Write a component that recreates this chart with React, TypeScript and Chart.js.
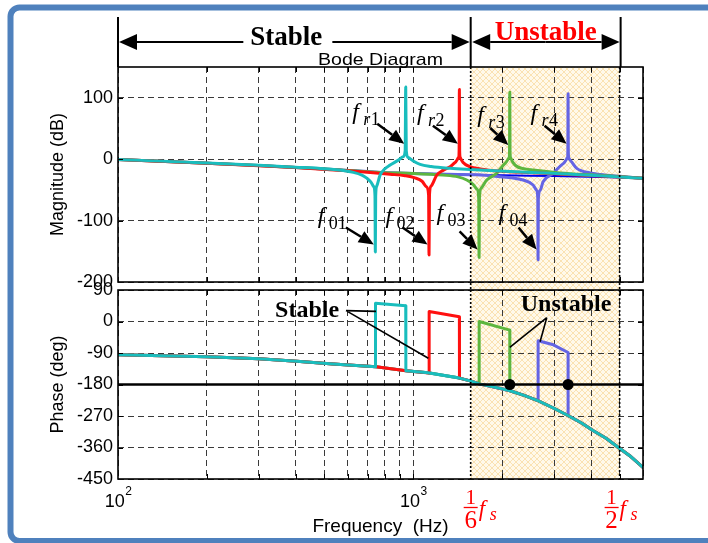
import React, { useEffect, useRef } from 'react';
import { Chart, registerables } from 'chart.js';

Chart.register(...registerables);

const W = 708;
const H = 543;
const SANS = '"Liberation Sans", Arial, Helvetica, sans-serif';
const SERIF = '"Liberation Serif", "Times New Roman", Times, serif';

// ---------- axes ----------
const F_MIN = 100;
const F_MAX = 6000;
const X_GRID = [100, 200, 300, 400, 500, 600, 700, 800, 900, 1000, 2000, 3000, 4000, 5000, 6000];
const X_DECADES = [2, 3];
const F_STABLE_EDGE = 1565; // ~ fs/6
const F_HALF_FS = 5000; // fs/2
const MAG_MIN = -200;
const MAG_MAX = 150;
const MAG_TICKS = [-200, -100, 0, 100];
const PH_MIN = -450;
const PH_MAX = 90;
const PH_TICKS = [-450, -360, -270, -180, -90, 0, 90];
const PH_CROSS = -180;

// anti-resonance / resonance frequencies (Hz)
const F_ANTI = [744, 1131, 1671, 2647];
const F_RES = [943, 1433, 2123, 3345];

// ---------- magnitude (Hz, dB) ----------
const MAG_BASE: [number, number][] = [[100, -0.5], [200, -6.5], [300, -10.4], [400, -13.5], [500, -16], [600, -18.3], [700, -20.3], [800, -21.8], [1000, -23.2], [1300, -24.6], [1570, -25.3], [2000, -26.3], [3000, -27.6], [4300, -29], [6000, -31.3]];
const MAG_CYAN: [number, number][] = [[100, -0.5], [200, -6.3], [300, -10.1], [400, -13.1], [500, -15.6], [560, -17.5], [627, -21.5], [670, -26], [696, -31], [718, -37], [735, -45], [742, -60], [744, -151], [746, -60], [752, -44], [772, -26], [800, -16], [835, -9.7], [891, -1.6], [925, 4], [939, 14], [943, 117.5], [947, 14], [960, 3], [1000, -3], [1055, -8.6], [1150, -12], [1333, -15], [1557, -17], [1968, -19.5], [2907, -23], [4294, -27], [6000, -31.3]];
const MAG_RED: [number, number][] = [[100, -0.5], [200, -6.6], [300, -10.6], [400, -13.8], [500, -16.6], [600, -19], [700, -21.4], [835, -24.6], [938, -27], [1014, -30.5], [1071, -36], [1109, -45], [1127, -58], [1131, -156], [1135, -58], [1149, -44], [1201, -26], [1261, -18.3], [1333, -12.3], [1386, -5.4], [1424, 2.8], [1430, 14], [1433, 113.5], [1436, 14], [1442, 3], [1475, -5.4], [1557, -12.3], [1684, -15.9], [1968, -19.5], [2907, -23.5], [4294, -27.5], [6000, -31.3]];
const MAG_GREEN: [number, number][] = [[100, -0.5], [200, -6.5], [300, -10.4], [400, -13.5], [500, -16], [600, -18.3], [700, -20.4], [800, -22], [1000, -23.2], [1261, -26], [1418, -28.9], [1518, -34], [1594, -41], [1645, -49], [1666, -64], [1671, -160], [1676, -64], [1697, -47.5], [1774, -34], [1918, -23], [2046, -7], [2112, 2.8], [2119, 14], [2123, 109], [2127, 14], [2135, 2.8], [2213, -9.7], [2392, -15.9], [2546, -17.8], [3143, -22.4], [4294, -26.4], [6000, -31.3]];
const MAG_PURPLE: [number, number][] = [[100, -0.5], [200, -6.5], [300, -10.4], [400, -13.5], [500, -16], [600, -18.3], [700, -20.3], [800, -21.8], [1000, -23.2], [1300, -24.6], [1640, -25.5], [1968, -28.5], [2355, -34], [2546, -42], [2617, -50.8], [2641, -64], [2647, -164], [2653, -64], [2689, -50.8], [2753, -36.7], [2976, -23.2], [3225, -7], [3327, 2.3], [3339, 14], [3345, 106.6], [3351, 14], [3364, 2.3], [3451, -5.4], [3580, -15], [3972, -22.4], [4294, -24.8], [5017, -28], [6000, -31.3]];

// ---------- phase (Hz, deg) ----------
const PH_BASE: [number, number][] = [[100, -95.1], [200, -100.9], [300, -106.6], [414, -114.3], [535, -121.7], [748, -129.4], [945, -140.9], [1122, -146.6], [1433, -161.7], [1570, -170.3], [1684, -178.9], [1893, -187.7], [2128, -198], [2373, -210.9], [2653, -226.6], [2976, -246.6], [3353, -269.4], [3703, -289.4], [4074, -312.3], [4499, -333.6], [4953, -360], [5468, -386.6], [6000, -417]];
const PH_CYAN: [number, number][] = [[100, -95.1], [200, -100.9], [300, -106.6], [414, -114.3], [535, -121.7], [744, -129.3], [745, 52], [943, 45], [944, -140.9], [1122, -146.6], [1433, -161.7], [1570, -170.3], [1684, -178.9], [1893, -187.7], [2128, -198], [2373, -210.9], [2653, -226.6], [2976, -246.6], [3353, -269.4], [3703, -289.4], [4074, -312.3], [4499, -333.6], [4953, -360], [5468, -386.6], [6000, -417]];
const PH_RED: [number, number][] = [[100, -95.1], [200, -100.9], [300, -106.6], [414, -114.3], [535, -121.7], [748, -129.4], [945, -140.9], [1131, -147.1], [1132, 28.6], [1433, 13.4], [1434, -161.8], [1570, -170.3], [1684, -178.9], [1893, -187.7], [2128, -198], [2373, -210.9], [2653, -226.6], [2976, -246.6], [3353, -269.4], [3703, -289.4], [4074, -312.3], [4499, -333.6], [4953, -360], [5468, -386.6], [6000, -417]];
const PH_GREEN: [number, number][] = [[100, -95.1], [200, -100.9], [300, -106.6], [414, -114.3], [535, -121.7], [748, -129.4], [945, -140.9], [1122, -146.6], [1433, -161.7], [1570, -170.3], [1671, -178], [1672, 0], [2123, -24.6], [2124, -197.8], [2373, -210.9], [2653, -226.6], [2976, -246.6], [3353, -269.4], [3703, -289.4], [4074, -312.3], [4499, -333.6], [4953, -360], [5468, -386.6], [6000, -417]];
const PH_PURPLE: [number, number][] = [[100, -95.1], [200, -100.9], [300, -106.6], [414, -114.3], [535, -121.7], [748, -129.4], [945, -140.9], [1122, -146.6], [1433, -161.7], [1570, -170.3], [1684, -178.9], [1893, -187.7], [2128, -198], [2373, -210.9], [2647, -226.3], [2648, -55], [2983, -66.6], [3345, -88.5], [3346, -269], [3703, -289.4], [4074, -312.3], [4499, -333.6], [4953, -360], [5468, -386.6], [6000, -417]];
const PH_CROSS_LINE: [number, number][] = [[F_MIN, PH_CROSS], [F_MAX, PH_CROSS]];
const PH_MARKERS: [number, number][] = [[F_RES[2], PH_CROSS], [F_RES[3], PH_CROSS]];

// ---------- annotations ----------
const MAG_NOTES = [
  { f: F_RES[0], v: 25, it: 'r', num: '1', tail: [-27, -20], label: [-52, -25] },
  { f: F_RES[1], v: 25, it: 'r', num: '2', tail: [-25, -18], label: [-41, -24] },
  { f: F_RES[2], v: 23, it: 'r', num: '3', tail: [-18, -17], label: [-31, -23] },
  { f: F_RES[3], v: 25, it: 'r', num: '4', tail: [-22, -18], label: [-36, -24] },
  { f: F_ANTI[0], v: -139, it: '', num: '01', tail: [-28, -17], label: [-56, -22] },
  { f: F_ANTI[1], v: -139, it: '', num: '02', tail: [-25, -17], label: [-42, -22] },
  { f: F_ANTI[2], v: -147, it: '', num: '03', tail: [-18, -18], label: [-41, -29] },
  { f: F_ANTI[3], v: -147, it: '', num: '04', tail: [-18, -22], label: [-38, -29] },
];
const PH_NOTES = [
  { text: 'Stable', at: [437, 13], from: [592, 31], to: [[748, 29], [1125, -105]] },
  { text: 'Unstable', at: [3293, 31], from: [2833, 11], to: [[F_RES[2], -74], [2689, -58]] },
];
const FS_MARKS = [
  { f: F_STABLE_EDGE, den: '6', dx: 0 },
  { f: F_HALF_FS, den: '2', dx: -8 },
];

// ---------- style ----------
const CYAN = '#19BDBD';
const RED = '#FF1010';
const GREEN = '#5DB63F';
const PURPLE = '#6464E4';
const BASE_BLUE = '#0000EE';
const GRID_COLOR = '#3a3a3a';
const DASH = [6, 4];
const AXIS_LEFT = 118;
const PLOT_RIGHT = 643;
const MAG_TOP = 67;
const MAG_BOTTOM = 282;
const PH_TOP = 290;
const PH_BOTTOM = 479;

const pts = (a: [number, number][]) => a.map(([x, y]) => ({ x, y }));

function hatch(ctx: CanvasRenderingContext2D) {
  const c = document.createElement('canvas');
  c.width = 6;
  c.height = 6;
  const g = c.getContext('2d')!;
  g.fillStyle = '#FFF9EA';
  g.fillRect(0, 0, 6, 6);
  g.strokeStyle = '#FAE2B2';
  g.lineWidth = 1;
  g.beginPath();
  g.moveTo(0, 0);
  g.lineTo(6, 6);
  g.moveTo(6, 0);
  g.lineTo(0, 6);
  g.stroke();
  return ctx.createPattern(c, 'repeat')!;
}

function arrow(ctx: CanvasRenderingContext2D, x0: number, y0: number, x1: number, y1: number, head: number, half: number, lw: number) {
  const a = Math.atan2(y1 - y0, x1 - x0);
  const bx = x1 - head * Math.cos(a);
  const by = y1 - head * Math.sin(a);
  ctx.lineWidth = lw;
  ctx.beginPath();
  ctx.moveTo(x0, y0);
  ctx.lineTo(bx, by);
  ctx.stroke();
  ctx.beginPath();
  ctx.moveTo(x1, y1);
  ctx.lineTo(bx + half * Math.sin(a), by - half * Math.cos(a));
  ctx.lineTo(bx - half * Math.sin(a), by + half * Math.cos(a));
  ctx.closePath();
  ctx.fill();
}

function drawBoxAndTicks(chart: any, yTicks: number[]) {
  const { ctx, chartArea: a, scales } = chart;
  ctx.save();
  ctx.strokeStyle = '#000';
  ctx.lineWidth = 1;
  ctx.beginPath();
  X_GRID.forEach((v) => {
    const x = Math.round(scales.x.getPixelForValue(v)) + 0.5;
    if (x <= a.left + 1 || x >= a.right - 1) return;
    ctx.moveTo(x, a.top);
    ctx.lineTo(x, a.top + 5);
    ctx.moveTo(x, a.bottom);
    ctx.lineTo(x, a.bottom - 5);
  });
  yTicks.forEach((v) => {
    const y = Math.round(scales.y.getPixelForValue(v)) + 0.5;
    if (y <= a.top + 1 || y >= a.bottom - 1) return;
    ctx.moveTo(a.left, y);
    ctx.lineTo(a.left + 5, y);
    ctx.moveTo(a.right, y);
    ctx.lineTo(a.right - 5, y);
  });
  ctx.stroke();
  ctx.lineWidth = 1.6;
  ctx.strokeRect(a.left, a.top, a.right - a.left, a.bottom - a.top);
  ctx.restore();
}

function drawDotted(chart: any, top: number, bottom: number) {
  const { ctx, scales } = chart;
  ctx.save();
  ctx.strokeStyle = '#000';
  ctx.lineWidth = 1.6;
  ctx.setLineDash([2, 2]);
  [F_STABLE_EDGE, F_HALF_FS].forEach((f) => {
    const x = scales.x.getPixelForValue(f);
    ctx.beginPath();
    ctx.moveTo(x, top);
    ctx.lineTo(x, bottom);
    ctx.stroke();
  });
  ctx.restore();
}

function yTitle(ctx: CanvasRenderingContext2D, text: string, x: number, y: number) {
  ctx.save();
  ctx.translate(x, y);
  ctx.rotate(-Math.PI / 2);
  ctx.font = `18px ${SANS}`;
  ctx.fillStyle = '#000';
  ctx.textAlign = 'center';
  ctx.textBaseline = 'middle';
  ctx.fillText(text, 0, 0);
  ctx.restore();
}

const magDecor = {
  id: 'magDecor',
  beforeDraw(chart: any) {
    const { ctx, chartArea: a, scales } = chart;
    ctx.save();
    // outer frame
    ctx.strokeStyle = '#4F81BD';
    ctx.lineWidth = 6;
    ctx.beginPath();
    (ctx as any).roundRect(10.5, 7.5, 760, 533.5, 9);
    ctx.stroke();
    // unstable shading
    const xa = scales.x.getPixelForValue(F_STABLE_EDGE);
    const xb = scales.x.getPixelForValue(F_HALF_FS);
    ctx.fillStyle = hatch(ctx);
    ctx.fillRect(xa, a.top, xb - xa, PH_TOP - a.top);
    ctx.restore();
  },
  afterDraw(chart: any) {
    const { ctx, chartArea: a, scales } = chart;
    const xs = scales.x;
    const ys = scales.y;
    drawDotted(chart, a.top, PH_TOP);
    drawBoxAndTicks(chart, MAG_TICKS);
    ctx.save();
    ctx.fillStyle = '#000';
    ctx.strokeStyle = '#000';
    // header
    const x0 = xs.getPixelForValue(F_MIN);
    const x1 = xs.getPixelForValue(F_STABLE_EDGE);
    const x2 = xs.getPixelForValue(F_HALF_FS) + 1;
    ctx.lineWidth = 2;
    ctx.beginPath();
    [x0, x1, x2].forEach((x) => {
      ctx.moveTo(x, 17);
      ctx.lineTo(x, a.top);
    });
    ctx.stroke();
    const ay = 42;
    ctx.font = `bold 27px ${SERIF}`;
    ctx.textAlign = 'center';
    ctx.textBaseline = 'alphabetic';
    const sc = (x0 + x1) / 2 - 8;
    const sw = ctx.measureText('Stable').width;
    ctx.fillText('Stable', sc, 45);
    arrow(ctx, sc - sw / 2 - 7, ay, x0 + 1, ay, 18, 8, 2);
    arrow(ctx, sc + sw / 2 + 10, ay, x1 - 1, ay, 18, 8, 2);
    const uc = (x1 + x2) / 2;
    arrow(ctx, uc, ay, x1 + 1.5, ay, 18, 8, 2);
    arrow(ctx, uc, ay, x2 - 1, ay, 18, 8, 2);
    ctx.fillStyle = '#FF0000';
    ctx.fillText('Unstable', uc, 40);
    ctx.fillStyle = '#000';
    // Bode Diagram title
    ctx.save();
    ctx.font = `17px ${SANS}`;
    const bw = ctx.measureText('Bode Diagram').width;
    ctx.translate((a.left + a.right) / 2, 65);
    ctx.scale(125 / bw, 1);
    ctx.textAlign = 'center';
    ctx.fillText('Bode Diagram', 0, 0);
    ctx.restore();
    // y title
    yTitle(ctx, 'Magnitude (dB)', 58, (a.top + a.bottom) / 2);
    // f annotations
    MAG_NOTES.forEach((n) => {
      const tx = xs.getPixelForValue(n.f) - 1.5;
      const ty = ys.getPixelForValue(n.v);
      arrow(ctx, tx + n.tail[0], ty + n.tail[1], tx, ty, 15, 6.5, 2.5);
      const lx = tx + n.label[0];
      const ly = ty + n.label[1];
      ctx.textAlign = 'left';
      ctx.font = `italic 24px ${SERIF}`;
      ctx.fillText('f', lx, ly);
      let sx = lx + 11;
      if (n.it) {
        ctx.font = `italic 18px ${SERIF}`;
        ctx.fillText(n.it, sx, ly + 6);
        sx += ctx.measureText(n.it).width + 0.5;
      }
      ctx.font = `18px ${SERIF}`;
      ctx.fillText(n.num, sx, ly + 6);
    });
    ctx.restore();
  },
};

const phDecor = {
  id: 'phDecor',
  beforeDraw(chart: any) {
    const { ctx, chartArea: a, scales } = chart;
    ctx.save();
    const xa = scales.x.getPixelForValue(F_STABLE_EDGE);
    const xb = scales.x.getPixelForValue(F_HALF_FS);
    ctx.fillStyle = hatch(ctx);
    ctx.fillRect(xa, a.top, xb - xa, a.bottom - a.top);
    ctx.restore();
  },
  afterDraw(chart: any) {
    const { ctx, chartArea: a, scales } = chart;
    const xs = scales.x;
    const ys = scales.y;
    drawDotted(chart, a.top, a.bottom);
    drawBoxAndTicks(chart, PH_TICKS);
    ctx.save();
    ctx.fillStyle = '#000';
    ctx.strokeStyle = '#000';
    yTitle(ctx, 'Phase (deg)', 58, (a.top + a.bottom) / 2);
    // decade labels
    X_DECADES.forEach((e) => {
      const px = xs.getPixelForValue(Math.pow(10, e));
      ctx.font = `18px ${SANS}`;
      const w1 = ctx.measureText('10').width;
      ctx.font = `12px ${SANS}`;
      const w2 = ctx.measureText(String(e)).width;
      const x0 = px - (w1 + w2) / 2;
      ctx.textAlign = 'left';
      ctx.font = `18px ${SANS}`;
      ctx.fillText('10', x0, 507);
      ctx.font = `12px ${SANS}`;
      ctx.fillText(String(e), x0 + w1 + 0.5, 495);
    });
    ctx.font = `19px ${SANS}`;
    ctx.textAlign = 'center';
    ctx.fillText('Frequency  (Hz)', (a.left + a.right) / 2, 532);
    // fs marks
    ctx.fillStyle = '#FF0000';
    ctx.strokeStyle = '#FF0000';
    FS_MARKS.forEach((m) => {
      const cx = xs.getPixelForValue(m.f) + m.dx;
      ctx.textAlign = 'center';
      ctx.font = `21px ${SERIF}`;
      ctx.fillText('1', cx, 503.5);
      ctx.lineWidth = 1.3;
      ctx.beginPath();
      ctx.moveTo(cx - 7, 507.5);
      ctx.lineTo(cx + 7, 507.5);
      ctx.stroke();
      ctx.font = `25px ${SERIF}`;
      ctx.fillText(m.den, cx, 527.5);
      ctx.textAlign = 'left';
      ctx.font = `italic 23px ${SERIF}`;
      ctx.fillText('f', cx + 8, 516);
      ctx.font = `italic 18px ${SERIF}`;
      ctx.fillText('s', cx + 19, 520);
    });
    // Stable / Unstable notes
    ctx.fillStyle = '#000';
    ctx.strokeStyle = '#000';
    PH_NOTES.forEach((n) => {
      ctx.font = `bold 24px ${SERIF}`;
      ctx.textAlign = 'center';
      ctx.fillText(n.text, xs.getPixelForValue(n.at[0]), ys.getPixelForValue(n.at[1]));
      const fx = xs.getPixelForValue(n.from[0]);
      const fy = ys.getPixelForValue(n.from[1]);
      ctx.lineWidth = 1.6;
      ctx.beginPath();
      n.to.forEach((t) => {
        ctx.moveTo(fx, fy);
        ctx.lineTo(xs.getPixelForValue(t[0]), ys.getPixelForValue(t[1]));
      });
      ctx.stroke();
    });
    ctx.restore();
  },
};

function xScale() {
  return {
    type: 'logarithmic',
    min: F_MIN,
    max: F_MAX,
    bounds: 'data',
    afterBuildTicks: (s: any) => {
      s.ticks = X_GRID.map((v) => ({ value: v }));
    },
    afterFit: (s: any) => {
      s.height = 0;
    },
    ticks: { display: false },
    grid: { color: GRID_COLOR, lineWidth: 1, drawTicks: false },
    border: { display: false, dash: DASH },
  };
}

function yScale(min: number, max: number, ticks: number[]) {
  return {
    type: 'linear',
    min,
    max,
    bounds: 'data',
    afterBuildTicks: (s: any) => {
      s.ticks = ticks.map((v) => ({ value: v }));
    },
    afterFit: (s: any) => {
      s.width = AXIS_LEFT;
    },
    ticks: {
      color: '#000',
      font: { family: SANS, size: 18 },
      padding: 5,
      autoSkip: false,
      callback: (v: any) => String(v),
    },
    grid: { color: GRID_COLOR, lineWidth: 1, drawTicks: false },
    border: { display: false, dash: DASH },
  };
}

function line(data: [number, number][], color: string, width: number, smooth: boolean) {
  return {
    data: pts(data),
    borderColor: color,
    backgroundColor: color,
    borderWidth: width,
    pointRadius: 0,
    fill: false,
    borderJoinStyle: 'round',
    borderCapStyle: 'round',
    cubicInterpolationMode: smooth ? 'monotone' : 'default',
    tension: 0,
  };
}

const commonOptions = {
  animation: false,
  responsive: false,
  events: [],
  plugins: { legend: { display: false }, tooltip: { enabled: false }, title: { display: false } },
};

export default function App() {
  const magRef = useRef<HTMLCanvasElement>(null);
  const phRef = useRef<HTMLCanvasElement>(null);

  useEffect(() => {
    const mag = new Chart(magRef.current as HTMLCanvasElement, {
      type: 'line',
      data: {
        datasets: [
          line(MAG_CYAN, CYAN, 3, true),
          line(MAG_RED, RED, 3, true),
          line(MAG_GREEN, GREEN, 3, true),
          line(MAG_PURPLE, PURPLE, 3, true),
          line(MAG_BASE, BASE_BLUE, 2, true),
        ] as any,
      },
      options: {
        ...commonOptions,
        layout: { padding: { left: 0, top: MAG_TOP, right: W - PLOT_RIGHT, bottom: H - MAG_BOTTOM } },
        scales: { x: xScale(), y: yScale(MAG_MIN, MAG_MAX, MAG_TICKS) },
      } as any,
      plugins: [magDecor],
    });
    const ph = new Chart(phRef.current as HTMLCanvasElement, {
      type: 'line',
      data: {
        datasets: [
          {
            data: pts(PH_MARKERS),
            showLine: false,
            pointRadius: 5.5,
            pointBackgroundColor: '#000',
            pointBorderColor: '#000',
            pointBorderWidth: 0,
          },
          line(PH_CROSS_LINE, '#000', 2.5, false),
          line(PH_CYAN, CYAN, 3, false),
          line(PH_RED, RED, 3, false),
          line(PH_GREEN, GREEN, 3, false),
          line(PH_PURPLE, PURPLE, 3, false),
          line(PH_BASE, BASE_BLUE, 2, false),
        ] as any,
      },
      options: {
        ...commonOptions,
        layout: { padding: { left: 0, top: PH_TOP, right: W - PLOT_RIGHT, bottom: H - PH_BOTTOM } },
        scales: { x: xScale(), y: yScale(PH_MIN, PH_MAX, PH_TICKS) },
      } as any,
      plugins: [phDecor],
    });
    return () => {
      mag.destroy();
      ph.destroy();
    };
  }, []);

  const cs: React.CSSProperties = { position: 'absolute', left: 0, top: 0, width: W, height: H };
  return (
    <div style={{ position: 'absolute', left: 0, top: 0, width: W, height: H, background: '#fff' }}>
      <canvas ref={magRef} width={W} height={H} style={cs} />
      <canvas ref={phRef} width={W} height={H} style={cs} />
    </div>
  );
}
